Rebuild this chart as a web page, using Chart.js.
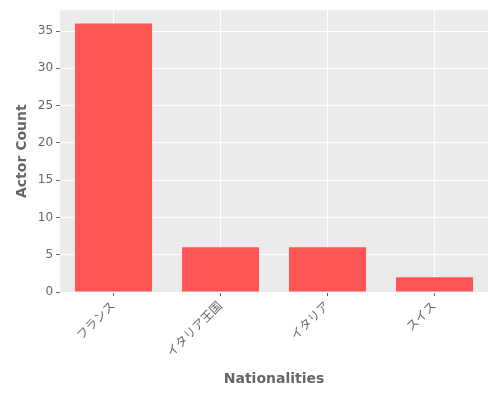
<!DOCTYPE html>
<html>
<head>
<meta charset="utf-8">
<script src="https://cdn.jsdelivr.net/npm/chart.js@4"></script>
<style>
  html, body { margin: 0; padding: 0; background: #fff; }
  #wrap { width: 500px; height: 400px; }
</style>
</head>
<body>
<div id="wrap"><canvas id="chart"></canvas></div>
<script>
// Actor counts by nationality
const nationalities = ['フランス', 'イタリア王国', 'イタリア', 'スイス'];
const actorCounts = [36, 6, 6, 2];
const yTicks = [0, 5, 10, 15, 20, 25, 30, 35];

const panelBackground = {
    id: 'panelBackground',
    beforeDraw(chart) {
        const { ctx, chartArea: a } = chart;
        ctx.save();
        ctx.fillStyle = '#EBEBEB';
        ctx.fillRect(a.left, a.top, a.right - a.left, a.bottom - a.top);
        ctx.restore();
    }
};

const font = "'DejaVu Sans', 'Noto Sans CJK JP', sans-serif";

new Chart(document.getElementById('chart').getContext('2d'), {
    type: 'bar',
    data: {
        labels: nationalities,
        datasets: [{
            data: actorCounts,
            backgroundColor: '#FF5555',
            borderWidth: 0,
            categoryPercentage: 0.72,
            barPercentage: 1
        }]
    },
    options: {
        responsive: true,
        maintainAspectRatio: false,
        animation: false,
        layout: { padding: { top: 10, right: 12, left: 10, bottom: 8 } },
        plugins: {
            legend: { display: false },
            tooltip: { enabled: false }
        },
        scales: {
            x: {
                grid: { color: '#FFFFFF', lineWidth: 1, offset: false, drawTicks: true, tickColor: '#666', tickLength: 4 },
                border: { display: false },
                ticks: {
                    color: '#666',
                    font: { family: font, size: 12 },
                    maxRotation: 45,
                    minRotation: 45
                },
                title: {
                    display: true,
                    text: 'Nationalities',
                    color: '#666',
                    font: { family: font, size: 14, weight: 'bold' },
                    padding: { top: 8 }
                }
            },
            y: {
                min: 0,
                max: 37.8,
                afterBuildTicks(axis) {
                    axis.ticks = yTicks.map(v => ({ value: v }));
                },
                grid: { color: '#FFFFFF', lineWidth: 1, tickColor: '#666', tickLength: 4 },
                border: { display: false },
                ticks: {
                    color: '#666',
                    font: { family: font, size: 12 }
                },
                title: {
                    display: true,
                    text: 'Actor Count',
                    color: '#666',
                    font: { family: font, size: 14, weight: 'bold' }
                }
            }
        }
    },
    plugins: [panelBackground]
});
</script>
</body>
</html>
